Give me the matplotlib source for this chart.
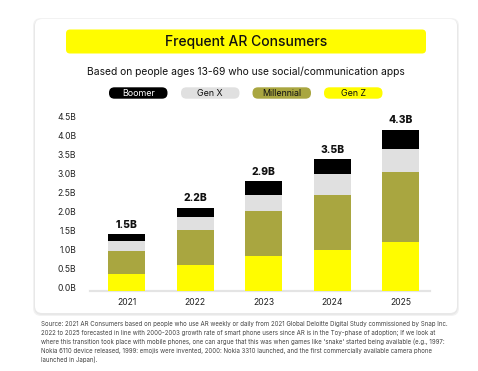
import matplotlib
matplotlib.use("Agg")
import matplotlib.pyplot as plt
from matplotlib.patches import FancyBboxPatch
import numpy as np

plt.rcParams['font.family'] = ['Inter', 'DejaVu Sans']

years = ["2021", "2022", "2023", "2024", "2025"]
gen_z = [0.46, 0.68, 0.92, 1.08, 1.29]
millennial = [0.59, 0.92, 1.18, 1.45, 1.84]
gen_x = [0.26, 0.36, 0.43, 0.54, 0.62]
boomer = [0.18, 0.23, 0.36, 0.40, 0.49]
total_labels = ["1.5B", "2.2B", "2.9B", "3.5B", "4.3B"]
ytick_vals = [0.0, 0.5, 1.0, 1.5, 2.0, 2.5, 3.0, 3.5, 4.0, 4.5]
ytick_labels = ["0.0B", "0.5B", "1.0B", "1.5B", "2.0B", "2.5B", "3.0B", "3.5B", "4.0B", "4.5B"]
legend_names = ["Boomer", "Gen X", "Millennial", "Gen Z"]
source_text = ("Source: 2021 AR Consumers based on people who use AR weekly or daily from 2021 Global Deloitte Digital Study commissioned by Snap Inc.\n"
               "2022 to 2025 forecasted in line with 2000-2003 growth rate of smart phone users since AR is in the Toy-phase of adoption; If we look at\n"
               "where this transition took place with mobile phones, one can argue that this was when games like 'snake' started being available (e.g., 1997:\n"
               "Nokia 6110 device released, 1999: emojis were invented, 2000: Nokia 3310 launched, and the first commercially available camera phone\n"
               "launched in Japan).")

C_BOOMER = "#000000"
C_GENX = "#e0e0e0"
C_MILL = "#a9a640"
C_GENZ = "#fffc00"

W, H = 478, 371
fig = plt.figure(figsize=(W / 100, H / 100), dpi=100)
fig.patch.set_facecolor("white")

# background pixel axes
bg = fig.add_axes([0, 0, 1, 1])
bg.set_xlim(0, W)
bg.set_ylim(H, 0)
bg.axis("off")

# card shadow + card
for off, col in [(2.0, "#f2f2f2"), (1.0, "#e8e8e8")]:
    bg.add_patch(FancyBboxPatch((35 - off, 19 - off + 1), 422 + 2 * off, 294 + 2 * off,
                                boxstyle="round,pad=0,rounding_size=8", fc=col, ec="none", zorder=0))
bg.add_patch(FancyBboxPatch((35, 19), 422, 294, boxstyle="round,pad=0,rounding_size=7",
                            fc="white", ec="none", zorder=1))

# title box
bg.add_patch(FancyBboxPatch((66, 29.5), 360, 24, boxstyle="round,pad=0,rounding_size=4",
                            fc=C_GENZ, ec="none", zorder=2))
bg.text(246, 42, "Frequent AR Consumers", ha="center", va="center", fontsize=10,
        fontweight="medium", color="#111111", zorder=3)

bg.text(246, 72, "Based on people ages 13-69 who use social/communication apps",
        ha="center", va="center", fontsize=7.4, color="#111111", zorder=3)

# legend pills
pill_x = [109, 181, 252.5, 324]
pill_cols = [C_BOOMER, C_GENX, C_MILL, C_GENZ]
pill_txt = ["white", "#111111", "#111111", "#111111"]
for x, name, c, tc in zip(pill_x, legend_names, pill_cols, pill_txt):
    bg.add_patch(FancyBboxPatch((x, 87.3), 58.5, 11.4, boxstyle="round,pad=0,rounding_size=5.5",
                                fc=c, ec="none", zorder=2))
    bg.text(x + 29.25, 93.2, name, ha="center", va="center", fontsize=6.4, color=tc, zorder=3)

# source text
bg.text(41, 321, source_text, ha="left", va="top", fontsize=4.42, color="#444444",
        linespacing=1.52, zorder=3)

# chart axes: zero at y=291px, 4.5 at y=120px; x from 90 to 430 px
ax = fig.add_axes([90 / W, (H - 291) / H, 340 / W, 171 / H])
ax.patch.set_alpha(0)
x = np.arange(len(years))
bw = 0.545
ax.bar(x, gen_z, bw, color=C_GENZ, zorder=3)
b1 = np.array(gen_z)
ax.bar(x, millennial, bw, bottom=b1, color=C_MILL, zorder=3)
b2 = b1 + np.array(millennial)
ax.bar(x, gen_x, bw, bottom=b2, color=C_GENX, zorder=3)
b3 = b2 + np.array(gen_x)
ax.bar(x, boomer, bw, bottom=b3, color=C_BOOMER, zorder=3)
tops = b3 + np.array(boomer)
for xi, t, lab in zip(x, tops, total_labels):
    ax.annotate(lab, (xi, t), xytext=(0, 3.2), textcoords="offset points", ha="center",
                va="bottom", fontsize=7.4, fontweight="heavy", color="#111111")

ax.set_xlim(-0.536, 4.428)
ax.set_ylim(0, 4.5)
ax.set_yticks(ytick_vals, labels=ytick_labels)
ax.set_xticks(x, labels=years)
for s in ["top", "right", "left"]:
    ax.spines[s].set_visible(False)
ax.spines["bottom"].set_color("#e4e4e4")
ax.spines["bottom"].set_linewidth(1.6)
ax.tick_params(axis="both", length=0, labelsize=6.2, labelcolor="#222222")
ax.tick_params(axis="y", pad=10)
ax.tick_params(axis="x", pad=5)
plt.setp(ax.get_yticklabels(), va="baseline")

fig.savefig("out.png", dpi=100, facecolor="white")
